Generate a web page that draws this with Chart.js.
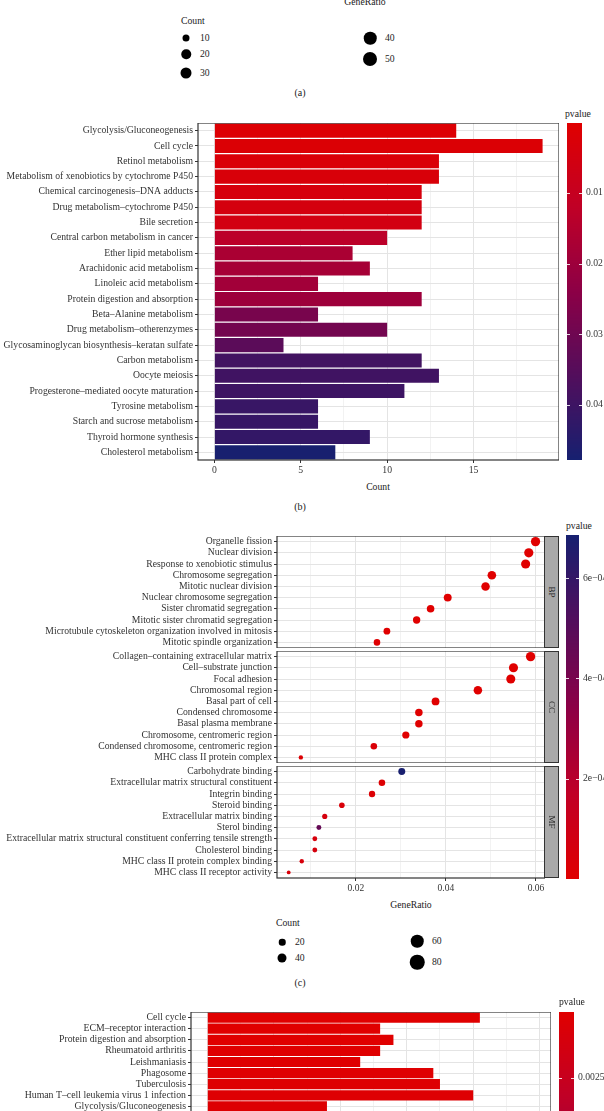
<!DOCTYPE html>
<html>
<head>
<meta charset="utf-8">
<script src="https://cdn.jsdelivr.net/npm/chart.js@4.4.1/dist/chart.umd.min.js"></script>
<style>
  html, body { margin: 0; padding: 0; background: #fff; }
  body { width: 604px; height: 1111px; overflow: hidden; position: relative;
         font-family: "Liberation Serif", "DejaVu Serif", serif; color: #222; }
  .box { position: absolute; }
  .txt { position: absolute; white-space: nowrap; font-size: 9.7px; line-height: 1; }
  .c { transform: translate(-50%, -50%); }
  .l { transform: translate(0, -50%); }
  .dot { position: absolute; background: #000; border-radius: 50%; transform: translate(-50%, -50%); }
  .strip { position: absolute; background: #a9a9a9; border: 1px solid #333; box-sizing: border-box; }
  .strip span { position: absolute; left: 50%; top: 50%; font-size: 9px;
                transform: translate(-50%, -50%) rotate(90deg); }
</style>
</head>
<body>

<!-- (a) legend remnants -->
<div class="txt c" style="left:365px;top:2px">GeneRatio</div>
<div class="txt l" style="left:181px;top:21px">Count</div>
<div class="dot" style="left:186px;top:38px;width:7px;height:7px"></div>
<div class="dot" style="left:186px;top:54px;width:9.5px;height:9.5px"></div>
<div class="dot" style="left:186px;top:73px;width:11px;height:11px"></div>
<div class="dot" style="left:370px;top:38px;width:12.5px;height:12.5px"></div>
<div class="dot" style="left:370px;top:59px;width:14px;height:14px"></div>
<div class="txt l" id="legA0" style="left:200px;top:38px"></div>
<div class="txt l" id="legA1" style="left:200px;top:54px"></div>
<div class="txt l" id="legA2" style="left:200px;top:73px"></div>
<div class="txt l" id="legA3" style="left:385px;top:38px"></div>
<div class="txt l" id="legA4" style="left:385px;top:59px"></div>
<div class="txt c" style="left:300px;top:93px;font-size:10px">(a)</div>

<!-- (b) KEGG bar chart -->
<div class="txt l" style="left:565px;top:114px">pvalue</div>
<div class="box" style="left:0;top:123px;width:559px;height:357px"><canvas id="keggBar"></canvas></div>
<div class="box" style="left:567px;top:123px;width:65px;height:337px"><canvas id="keggBarScale"></canvas></div>
<div class="txt c" style="left:378px;top:487px">Count</div>
<div class="txt c" style="left:300px;top:507px;font-size:10px">(b)</div>

<!-- (c) GO dot plot -->
<div class="txt l" style="left:566px;top:526px">pvalue</div>
<div class="box" style="left:0;top:536px;width:545px;height:112px"><canvas id="goBP"></canvas></div>
<div class="box" style="left:0;top:651px;width:545px;height:112px"><canvas id="goCC"></canvas></div>
<div class="box" style="left:0;top:766px;width:545px;height:132px"><canvas id="goMF"></canvas></div>
<div class="strip" style="left:544px;top:536px;width:15px;height:112px"><span>BP</span></div>
<div class="strip" style="left:544px;top:651px;width:15px;height:112px"><span>CC</span></div>
<div class="strip" style="left:544px;top:766px;width:15px;height:112px"><span>MF</span></div>
<div class="box" style="left:566px;top:535px;width:63px;height:344px"><canvas id="goScale"></canvas></div>
<div class="txt c" style="left:411px;top:905px">GeneRatio</div>
<div class="txt l" style="left:276px;top:923px">Count</div>
<div class="dot" style="left:282px;top:942px;width:6.5px;height:6.5px"></div>
<div class="dot" style="left:282px;top:958px;width:9px;height:9px"></div>
<div class="dot" style="left:417px;top:941px;width:12.5px;height:12.5px"></div>
<div class="dot" style="left:417px;top:962px;width:14.5px;height:14.5px"></div>
<div class="txt l" id="legC0" style="left:295px;top:942px"></div>
<div class="txt l" id="legC1" style="left:295px;top:958px"></div>
<div class="txt l" id="legC2" style="left:432px;top:941px"></div>
<div class="txt l" id="legC3" style="left:432px;top:962px"></div>
<div class="txt c" style="left:300px;top:983px;font-size:10px">(c)</div>

<!-- (d) second KEGG bar chart, cut at the page bottom -->
<div class="txt l" style="left:559px;top:1002px">pvalue</div>
<div class="box" style="left:0;top:1012px;width:551px;height:120px"><canvas id="kegg2Bar"></canvas></div>
<div class="box" style="left:559px;top:1012px;width:65px;height:337px"><canvas id="kegg2Scale"></canvas></div>

<script>
// ---- data ----
const countLegendA = [10, 20, 30, 40, 50];
const countLegendC = [20, 40, 60, 80];

const keggTerms = [
  'Glycolysis/Gluconeogenesis', 'Cell cycle', 'Retinol metabolism',
  'Metabolism of xenobiotics by cytochrome P450', 'Chemical carcinogenesis–DNA adducts',
  'Drug metabolism–cytochrome P450', 'Bile secretion', 'Central carbon metabolism in cancer',
  'Ether lipid metabolism', 'Arachidonic acid metabolism', 'Linoleic acid metabolism',
  'Protein digestion and absorption', 'Beta–Alanine metabolism', 'Drug metabolism–otherenzymes',
  'Glycosaminoglycan biosynthesis–keratan sulfate', 'Carbon metabolism', 'Oocyte meiosis',
  'Progesterone–mediated oocyte maturation', 'Tyrosine metabolism',
  'Starch and sucrose metabolism', 'Thyroid hormone synthesis', 'Cholesterol metabolism',
];
const keggCounts = [14, 19, 13, 13, 12, 12, 12, 10, 8, 9, 6, 12, 6, 10, 4, 12, 13, 11, 6, 6, 9, 7];
const keggPvalues = [0.0012, 0.0018, 0.0025, 0.003, 0.004, 0.0045, 0.0055, 0.013, 0.017, 0.018,
  0.019, 0.02, 0.028, 0.029, 0.034, 0.039, 0.0395, 0.04, 0.041, 0.0415, 0.042, 0.0475];
const keggPRange = [0.0001, 0.0478];
const keggPTicks = [0.01, 0.02, 0.03, 0.04];

const bpTerms = [
  'Organelle fission', 'Nuclear division', 'Response to xenobiotic stimulus',
  'Chromosome segregation', 'Mitotic nuclear division', 'Nuclear chromosome segregation',
  'Sister chromatid segregation', 'Mitotic sister chromatid segregation',
  'Microtubule cytoskeleton organization involved in mitosis', 'Mitotic spindle organization',
];
const bpRatio = [0.0599, 0.0584, 0.0577, 0.0502, 0.0488, 0.0404, 0.0366, 0.0335, 0.0269, 0.0247];
const bpCount = [84, 82, 81, 70, 68, 57, 51, 47, 38, 35];
const bpPvalue = [2e-12, 5e-12, 1e-11, 3e-10, 5e-10, 2e-8, 6e-8, 3e-7, 2e-6, 8e-6];

const ccTerms = [
  'Collagen–containing extracellular matrix', 'Cell–substrate junction', 'Focal adhesion',
  'Chromosomal region', 'Basal part of cell', 'Condensed chromosome', 'Basal plasma membrane',
  'Chromosome, centromeric region', 'Condensed chromosome, centromeric region',
  'MHC class II protein complex',
];
const ccRatio = [0.0588, 0.055, 0.0544, 0.0471, 0.0377, 0.034, 0.034, 0.0311, 0.024, 0.0078];
const ccCount = [85, 80, 79, 68, 55, 49, 49, 45, 35, 11];
const ccPvalue = [1e-11, 4e-11, 6e-11, 2e-9, 5e-8, 3e-7, 4e-7, 1e-6, 3e-5, 2e-5];

const mfTerms = [
  'Carbohydrate binding', 'Extracellular matrix structural constituent', 'Integrin binding',
  'Steroid binding', 'Extracellular matrix binding', 'Sterol binding',
  'Extracellular matrix structural constituent conferring tensile strength',
  'Cholesterol binding', 'MHC class II protein complex binding', 'MHC class II receptor activity',
];
const mfRatio = [0.0302, 0.0258, 0.0236, 0.0169, 0.0131, 0.0118, 0.0109, 0.0109, 0.008, 0.0051];
const mfCount = [41, 35, 32, 23, 18, 16, 15, 15, 11, 7];
const mfPvalue = [6.8e-4, 1.5e-5, 2e-5, 4e-5, 6e-5, 4.6e-4, 5e-5, 6e-5, 5e-5, 4e-5];
const goPRange = [0, 6.86e-4];
const goPTicks = [2e-4, 4e-4, 6e-4];

const kegg2Terms = [
  'Cell cycle', 'ECM–receptor interaction', 'Protein digestion and absorption',
  'Rheumatoid arthritis', 'Leishmaniasis', 'Phagosome', 'Tuberculosis',
  'Human T–cell leukemia virus 1 infection', 'Glycolysis/Gluconeogenesis',
];
const kegg2Counts = [41, 26, 28, 26, 23, 34, 35, 40, 18];
const kegg2Pvalues = [1e-5, 3e-5, 5e-5, 8e-5, 1.2e-4, 1.5e-4, 2e-4, 2.5e-4, 3e-4];
const kegg2PRange = [0.00002, 0.0127];
const kegg2PTicks = [0.0025, 0.005, 0.0075, 0.01];

// ---- helpers ----
const FONT = '"Liberation Serif", "DejaVu Serif", serif';
const AXIS_TEXT = '#333';
const GRID = '#e4e4e4';
const EDGE = '#333';

const stops = [[224, 0, 0], [192, 0, 38], [140, 0, 70], [82, 14, 92], [22, 32, 112]];
function pColor(t) {
  t = Math.max(0, Math.min(1, t));
  const s = t * (stops.length - 1);
  const i = Math.min(Math.floor(s), stops.length - 2);
  const f = s - i;
  const c = stops[i].map((v, k) => Math.round(v + (stops[i + 1][k] - v) * f));
  return `rgb(${c[0]},${c[1]},${c[2]})`;
}
const colorIn = (range) => (p) => pColor((p - range[0]) / (range[1] - range[0]));

// fix an axis box to a set size and drop the label overhang padding,
// so the plot panels land exactly where the figure has them
const fixWidth = (w) => (s) => { s.width = w; s.paddingTop = 0; s.paddingBottom = 0; };
const fixHeight = (h) => (s) => { s.height = h; s.paddingLeft = 0; s.paddingRight = 0; };

const frame = {
  id: 'frame',
  afterDraw(c) {
    const a = c.chartArea;
    const ctx = c.ctx;
    ctx.save();
    ctx.strokeStyle = EDGE;
    ctx.lineWidth = 1.2;
    ctx.strokeRect(a.left, a.top, a.right - a.left, a.bottom - a.top);
    ctx.restore();
  },
};

countLegendA.forEach((v, i) => { document.getElementById('legA' + i).textContent = v; });
countLegendC.forEach((v, i) => { document.getElementById('legC' + i).textContent = v; });

// vertical colour bar: the gradient is painted through the chart's own y scale
function colorbar(id, range, reverse, ticks, fmt) {
  const col = colorIn(range);
  return new Chart(document.getElementById(id), {
    type: 'scatter',
    data: { datasets: [] },
    options: {
      animation: false,
      responsive: true,
      maintainAspectRatio: false,
      layout: { padding: 0, autoPadding: false },
      plugins: { legend: { display: false }, tooltip: { enabled: false } },
      scales: {
        x: { display: false, min: 0, max: 1 },
        y: {
          position: 'right',
          min: range[0],
          max: range[1],
          reverse,
          afterBuildTicks: (s) => { s.ticks = ticks.map((v) => ({ value: v })); },
          afterFit: fixWidth(50),
          grid: { display: false, drawTicks: false },
          border: { display: false },
          ticks: { padding: 4, color: AXIS_TEXT, font: { family: FONT, size: 9.7 }, callback: (v) => fmt(v) },
        },
      },
    },
    plugins: [{
      id: 'gradient',
      beforeDatasetsDraw(c) {
        const a = c.chartArea;
        const ctx = c.ctx;
        const ys = c.scales.y;
        for (let y = Math.floor(a.top); y < a.bottom; y++) {
          ctx.fillStyle = col(ys.getValueForPixel(y + 0.5));
          ctx.fillRect(a.left, y, a.right - a.left, 1);
        }
        ctx.save();
        ctx.strokeStyle = 'rgba(255,255,255,0.85)';
        ctx.lineWidth = 1;
        ticks.forEach((v) => {
          const py = Math.round(ys.getPixelForValue(v)) + 0.5;
          ctx.beginPath();
          ctx.moveTo(a.left, py); ctx.lineTo(a.left + 3, py);
          ctx.moveTo(a.right - 3, py); ctx.lineTo(a.right, py);
          ctx.stroke();
        });
        ctx.restore();
      },
    }],
  });
}

function barChart(id, terms, counts, pvals, range, opt) {
  const col = colorIn(range);
  return new Chart(document.getElementById(id), {
    type: 'bar',
    data: {
      labels: terms,
      datasets: [{
        data: counts,
        backgroundColor: pvals.map(col),
        borderWidth: 0,
        barPercentage: 0.92,
        categoryPercentage: 1,
      }],
    },
    options: {
      indexAxis: 'y',
      animation: false,
      responsive: true,
      maintainAspectRatio: false,
      layout: { padding: 0, autoPadding: false },
      plugins: { legend: { display: false }, tooltip: { enabled: false } },
      scales: {
        x: {
          type: 'linear',
          min: opt.min,
          max: opt.max,
          afterFit: fixHeight(20),
          border: { display: false },
          grid: {
            color: GRID,
            lineWidth: (ctx) => (ctx.tick && ctx.tick.value % opt.major === 0 ? 1 : 0.5),
            tickColor: (ctx) => (ctx.tick && ctx.tick.value % opt.major === 0 ? EDGE : 'rgba(0,0,0,0)'),
            tickWidth: 1,
            tickLength: 3,
          },
          ticks: {
            stepSize: opt.step,
            includeBounds: false,
            maxRotation: 0,
            autoSkip: false,
            padding: 2,
            color: AXIS_TEXT,
            font: { family: FONT, size: 9.7 },
            callback: (v) => (v % opt.major === 0 ? v : ''),
          },
        },
        y: {
          offset: true,
          afterFit: fixWidth(opt.yWidth),
          border: { display: false },
          grid: { color: GRID, offset: false, tickColor: EDGE, tickLength: 3, tickWidth: 1 },
          ticks: { autoSkip: false, padding: 2, color: AXIS_TEXT, font: { family: FONT, size: opt.fontSize } },
        },
      },
    },
    plugins: [frame],
  });
}

function dotPanel(id, terms, ratios, counts, pvals, showX) {
  const col = colorIn(goPRange);
  const isMajor = (v) => Math.round(v * 100) % 2 === 0;
  return new Chart(document.getElementById(id), {
    type: 'scatter',
    data: {
      datasets: [{
        data: terms.map((t, i) => ({ x: ratios[i], y: t })),
        backgroundColor: pvals.map(col),
        borderWidth: 0,
        pointRadius: (ctx) => 0.8 + 0.42 * Math.sqrt(counts[ctx.dataIndex]),
      }],
    },
    options: {
      animation: false,
      responsive: true,
      maintainAspectRatio: false,
      layout: { padding: 0, autoPadding: false },
      plugins: { legend: { display: false }, tooltip: { enabled: false } },
      scales: {
        x: {
          type: 'linear',
          min: 0.0025,
          max: 0.062,
          afterFit: fixHeight(showX ? 20 : 0),
          border: { display: false },
          grid: {
            color: GRID,
            lineWidth: (ctx) => (ctx.tick && isMajor(ctx.tick.value) ? 1 : 0.5),
            tickColor: (ctx) => (ctx.tick && isMajor(ctx.tick.value) ? EDGE : 'rgba(0,0,0,0)'),
            tickWidth: 1,
            tickLength: 3,
            drawTicks: showX,
          },
          ticks: {
            display: showX,
            stepSize: 0.01,
            includeBounds: false,
            maxRotation: 0,
            autoSkip: false,
            padding: 2,
            color: AXIS_TEXT,
            font: { family: FONT, size: 9.5 },
            callback: (v) => (isMajor(v) ? v.toFixed(2) : ''),
          },
        },
        y: {
          type: 'category',
          labels: terms,
          offset: true,
          afterFit: fixWidth(277),
          border: { display: false },
          grid: { color: GRID, offset: false, tickColor: EDGE, tickLength: 3, tickWidth: 1 },
          ticks: { autoSkip: false, padding: 2, color: AXIS_TEXT, font: { family: FONT, size: 9.7 } },
        },
      },
    },
    plugins: [frame],
  });
}

// ---- charts ----
barChart('keggBar', keggTerms, keggCounts, keggPvalues, keggPRange,
  { min: -0.95, max: 19.95, step: 2.5, major: 5, yWidth: 198, fontSize: 9.7 });
colorbar('keggBarScale', keggPRange, true, keggPTicks, (v) => v.toFixed(2));

dotPanel('goBP', bpTerms, bpRatio, bpCount, bpPvalue, false);
dotPanel('goCC', ccTerms, ccRatio, ccCount, ccPvalue, false);
dotPanel('goMF', mfTerms, mfRatio, mfCount, mfPvalue, true);
colorbar('goScale', goPRange, false, goPTicks, (v) => Math.round(v * 1e4) + 'e−04');

barChart('kegg2Bar', kegg2Terms, kegg2Counts, kegg2Pvalues, kegg2PRange,
  { min: -2.45, max: 51.7, step: 5, major: 10, yWidth: 191, fontSize: 9.8 });
colorbar('kegg2Scale', kegg2PRange, true, kegg2PTicks, (v) => v.toFixed(4));
</script>
</body>
</html>
